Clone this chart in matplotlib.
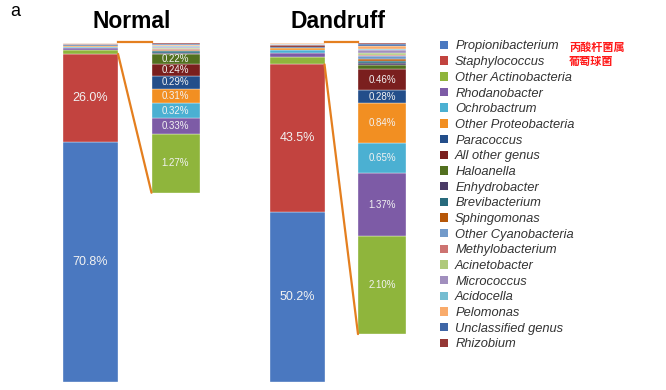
import matplotlib.pyplot as plt
from matplotlib.patches import Patch, ConnectionPatch

# ------------------------------------------------------------------ data
genus = ["Propionibacterium", "Staphylococcus", "Other Actinobacteria",
         "Rhodanobacter", "Ochrobactrum", "Other Proteobacteria", "Paracoccus",
         "All other genus", "Haloanella", "Enhydrobacter", "Brevibacterium",
         "Sphingomonas", "Other Cyanobacteria", "Methylobacterium",
         "Acinetobacter", "Micrococcus", "Acidocella", "Pelomonas",
         "Unclassified genus", "Rhizobium"]
samples = ["Normal", "Dandruff"]
normal = [70.8, 26.0, 1.27, 0.33, 0.32, 0.31, 0.29, 0.24, 0.22, 0.03, 0.03,
          0.02, 0.02, 0.02, 0.02, 0.02, 0.02, 0.02, 0.02, 0.02]
dandruff = [50.2, 43.5, 2.10, 1.37, 0.65, 0.84, 0.28, 0.46, 0.08, 0.05, 0.05,
            0.04, 0.05, 0.04, 0.04, 0.05, 0.04, 0.05, 0.04, 0.03]
cn_notes = ["丙酸杆菌属", "葡萄球菌"]

colors = ["#4a78c0", "#c2433f", "#8fb53c", "#7d5ba6", "#4bb0d2", "#f28f22",
          "#234e8a", "#7a1f1e", "#52701f", "#4a3a66", "#276a7c", "#b65708",
          "#729aca", "#cd7371", "#afc97a", "#a18fbe", "#75bdd1", "#f9ab6b",
          "#3f66a6", "#953735"]

# ------------------------------------------------------------------ layout
W, H = 666, 390
fig = plt.figure(figsize=(W / 100, H / 100), dpi=100)
bar_top_px, bar_bot_px = 43, 382
ax = fig.add_axes([0, 1 - bar_bot_px / H, 1, (bar_bot_px - bar_top_px) / H])
ax2 = ax.twinx()
unit = 206.5                       # px between samples
ax.set_xlim(-90.5 / unit, (W - 90.5) / unit)
ax.set_ylim(0, 100)
zoom_top = (bar_bot_px - bar_top_px) / 46.5   # 46.5 px per 1 % in the zoom bars
ax2.set_ylim(0, zoom_top)
for a in (ax, ax2):
    a.axis("off")

main_w = 55 / unit
zoom_w = 48 / unit
zoom_dx = 85 / unit
line_c = "#e47f1f"
txt_c = "#f2f2f2"

for i, vals in enumerate([normal, dandruff]):
    # main stacked bar
    bottom = 0
    for j, v in enumerate(vals):
        ax.bar(i, v, main_w, bottom=bottom, color=colors[j],
               edgecolor="white", linewidth=0.25)
        if j < 2:
            ax.text(i, bottom + v / 2, f"{v:.1f}%", ha="center", va="center",
                    color=txt_c, fontsize=9, family="Liberation Sans")
        bottom += v
    # zoomed bar of the minor genera
    minor = vals[2:]
    zb = zoom_top - sum(minor)
    base = zb
    for j, v in enumerate(minor, start=2):
        ax2.bar(i + zoom_dx, v, zoom_w, bottom=base, color=colors[j],
                edgecolor="white", linewidth=0.25)
        if v >= 0.2:
            ax2.text(i + zoom_dx, base + v / 2, f"{v:.2f}%", ha="center",
                     va="center", color=txt_c, fontsize=7,
                     family="Liberation Sans")
        base += v
    # connector lines
    xr = i + main_w / 2
    xl = i + zoom_dx - zoom_w / 2
    ax.plot([xr, xl], [100.3, 100.3], color=line_c, lw=1.6, clip_on=False)
    con = ConnectionPatch(xyA=(xr, vals[0] + vals[1]), coordsA=ax.transData,
                          xyB=(xl, zb), coordsB=ax2.transData,
                          color=line_c, lw=1.6)
    fig.add_artist(con)
    # sample titles
    fig.text((90.5 + i * unit + 41) / W, 1 - 21 / H, samples[i],
             ha="center", va="center", fontsize=16.5, fontweight="bold",
             family="Liberation Sans")

fig.text(10 / W, 1 - 12 / H, "a", ha="left", va="center", fontsize=13,
         family="Liberation Sans")

handles = [Patch(facecolor=c, edgecolor="none") for c in colors]
leg = fig.legend(handles, genus, loc="upper left",
                 bbox_to_anchor=(440 / W, 1 - 40.5 / H), frameon=False,
                 prop={"family": "Liberation Sans", "style": "italic",
                       "size": 9.3},
                 handlelength=0.62, handleheight=0.62, handletextpad=0.55,
                 labelspacing=0.285, borderpad=0, borderaxespad=0)
for t in leg.get_texts():
    t.set_color("#333333")

for k, note in enumerate(cn_notes):
    fig.text(569 / W, 1 - (47 + 15 * k) / H, note, ha="left", va="center",
             fontsize=8, fontweight="bold", color="#ff1a1a",
             family=["Noto Sans CJK SC", "DejaVu Sans"])

fig.savefig("out.png", dpi=100)
